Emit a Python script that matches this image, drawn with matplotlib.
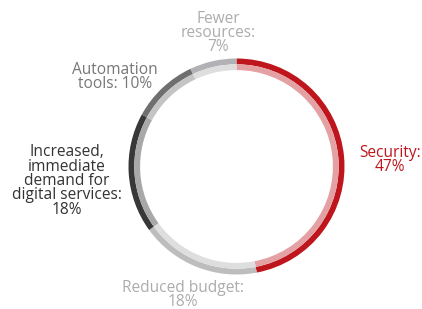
import matplotlib
matplotlib.use('Agg')
import matplotlib.pyplot as plt

# data
categories = ['Security', 'Reduced budget', 'Increased, immediate demand for digital services',
              'Automation tools', 'Fewer resources']
shares = [47, 18, 18, 10, 7]
label_texts = ['Security:\n47%', 'Reduced budget:\n18%',
               'Increased,\nimmediate\ndemand for\ndigital services:\n18%',
               'Automation\ntools: 10%', 'Fewer\nresources:\n7%']

outer_colors = ['#be161c', '#bdbdbd', '#383838', '#6f6f6f', '#b2b2b6']
inner_colors = ['#e3a1a3', '#dedede', '#a8a8a8', '#c4c4c4', '#dedede']
text_colors = ['#be161c', '#acacac', '#333333', '#777777', '#acacac']
# label anchor positions in pixels (x, y from top)
label_pos = [(390, 160), (183, 295), (67, 181), (115, 77), (218, 33)]

W, H = 422, 309
fig = plt.figure(figsize=(W / 100, H / 100), dpi=100)
ax = fig.add_axes([0, 0, 1, 1])
ax.set_aspect('equal')
ax.axis('off')

cx, cy, r = 236.5, H - 166.5, 108
band = 5.8

# outer (darker) band
ax.pie(shares, colors=outer_colors, radius=r, center=(cx, cy), startangle=90,
       counterclock=False, wedgeprops=dict(width=band, linewidth=0))
# inner (lighter) band
ax.pie(shares, colors=inner_colors, radius=r - band, center=(cx, cy), startangle=90,
       counterclock=False, wedgeprops=dict(width=band, linewidth=0))
ax.set_xlim(0, W)
ax.set_ylim(0, H)

for txt, (x, y), c in zip(label_texts, label_pos, text_colors):
    ax.text(x, H - y, txt, color=c, ha='center', va='center', fontsize=11.2,
            family='Open Sans', linespacing=0.86)

plt.savefig('out.png', dpi=100)
plt.close('all')
